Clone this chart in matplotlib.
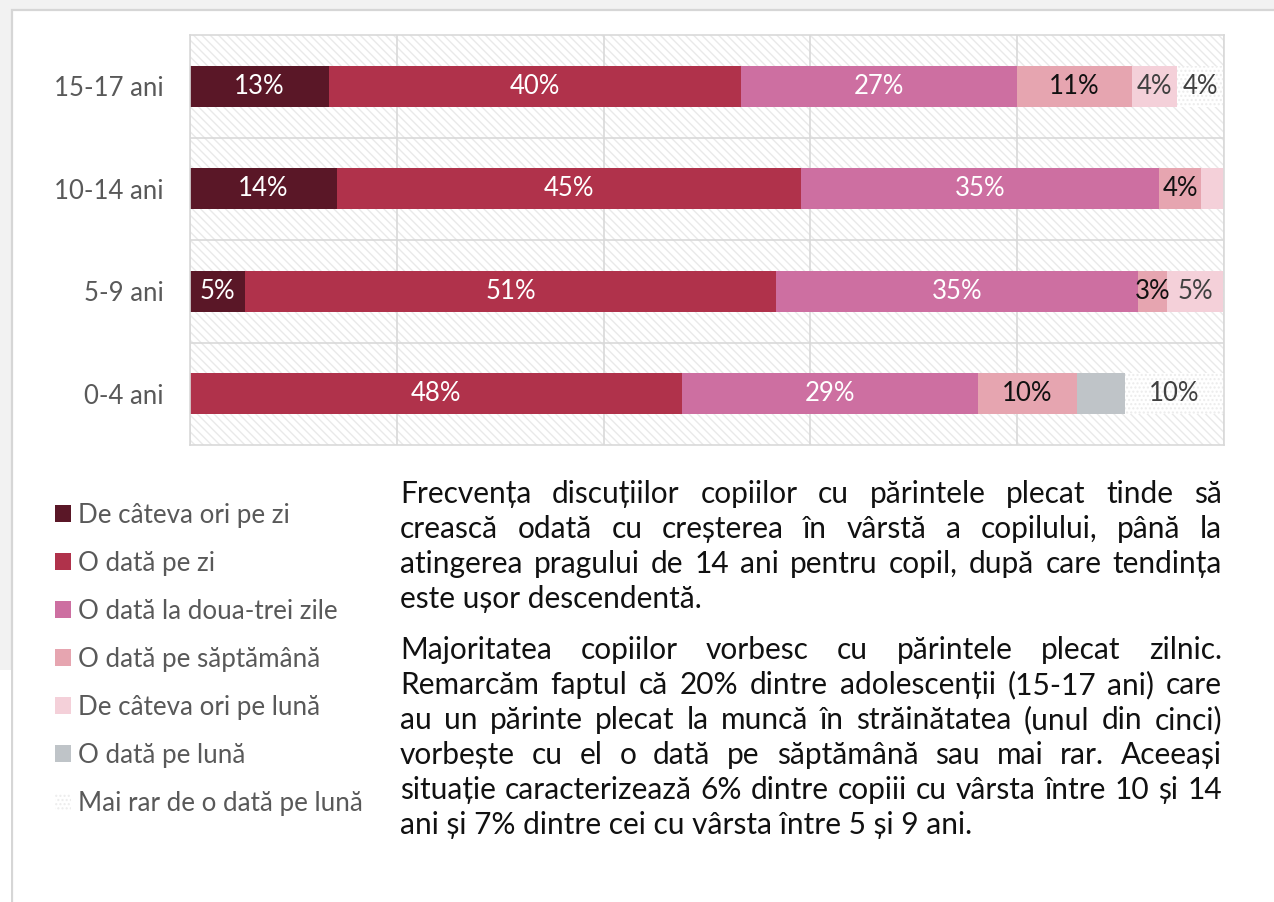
import matplotlib
matplotlib.use("Agg")
import matplotlib.pyplot as plt
from matplotlib.patches import Patch, Rectangle
import numpy as np

# ---- data -------------------------------------------------------------
age_groups = ["0-4 ani", "5-9 ani", "10-14 ani", "15-17 ani"]

series_names = [
    "De câteva ori pe zi",
    "O dată pe zi",
    "O dată la doua-trei zile",
    "O dată pe săptămână",
    "De câteva ori pe lună",
    "O dată pe lună",
    "Mai rar de o dată pe lună",
]

de_cateva_ori_pe_zi = [0.0, 5.3, 14.2, 13.4]
o_data_pe_zi = [47.6, 51.4, 44.9, 39.9]
o_data_la_doua_trei_zile = [28.6, 35.0, 34.6, 26.7]
o_data_pe_saptamana = [9.6, 2.8, 4.1, 11.1]
de_cateva_ori_pe_luna = [0.0, 5.4, 2.2, 4.4]
o_data_pe_luna = [4.6, 0.0, 0.0, 0.0]
mai_rar = [9.6, 0.0, 0.0, 4.4]

# segments whose value label is not printed
unlabeled = [("10-14 ani", "De câteva ori pe lună"), ("0-4 ani", "O dată pe lună")]

paragraphs = [
    [
        "Frecvența discuțiilor copiilor cu părintele plecat tinde să",
        "crească odată cu creșterea în vârstă a copilului, până la",
        "atingerea pragului de 14 ani pentru copil, după care tendința",
        "este ușor descendentă.",
    ],
    [
        "Majoritatea copiilor vorbesc cu părintele plecat zilnic.",
        "Remarcăm faptul că 20% dintre adolescenții (15-17 ani) care",
        "au un părinte plecat la muncă în străinătatea (unul din cinci)",
        "vorbește cu el o dată pe săptămână sau mai rar. Aceeași",
        "situație caracterizează 6% dintre copiii cu vârsta între 10 și 14",
        "ani și 7% dintre cei cu vârsta între 5 și 9 ani.",
    ],
]

# ---- style ------------------------------------------------------------
FAMILY = ["Lato", "DejaVu Sans"]
plt.rcParams["font.family"] = FAMILY
plt.rcParams["hatch.linewidth"] = 1.0

series_values = [
    de_cateva_ori_pe_zi,
    o_data_pe_zi,
    o_data_la_doua_trei_zile,
    o_data_pe_saptamana,
    de_cateva_ori_pe_luna,
    o_data_pe_luna,
    mai_rar,
]
colors = ["#5a1727", "#b0324b", "#cd6fa1", "#e6a5b0", "#f4d0d9", "#bfc4c8", "#ffffff"]
hatches = [None, None, None, None, None, None, "...."]
hatch_edge = "#ececec"
label_colors = ["white", "white", "white", "#111111", "#404040", "#404040", "#404040"]

W, H = 1274, 902
fig = plt.figure(figsize=(W / 100, H / 100), dpi=100, facecolor="#f2f2f2")

# white panel with thin grey border
fig.patches.append(Rectangle((12 / W, -0.01), 1.0, 1 - 10 / H + 0.01, transform=fig.transFigure,
                             facecolor="white", edgecolor="#d6d6d6", linewidth=1.6, zorder=-2))
fig.patches.append(Rectangle((0, 0), 11 / W, (H - 670) / H, transform=fig.transFigure,
                             facecolor="white", edgecolor="none", zorder=-2))

ax = fig.add_axes([190 / W, 1 - 445 / H, 1034 / W, 410 / H])
ax.set_facecolor("white")

# fine diagonal texture behind the plot area
ax.add_patch(Rectangle((0, 0), 1, 1, transform=ax.transAxes, facecolor="white",
                       edgecolor="#e9e9e9", hatch="\\\\\\\\", linewidth=0, zorder=0.1))

y = np.arange(len(age_groups))
left = np.zeros(len(age_groups))
for name, vals, col, hat, lcol in zip(series_names, series_values, colors, hatches, label_colors):
    vals = np.asarray(vals, dtype=float)
    bars = ax.barh(y, vals, left=left, height=0.4, color=col,
                   edgecolor=hatch_edge if hat else col, linewidth=0,
                   hatch=hat, zorder=2, label=name)
    for i, (b, v) in enumerate(zip(bars, vals)):
        if v <= 0 or (age_groups[i], name) in unlabeled:
            continue
        ax.text(b.get_x() + b.get_width() / 2, b.get_y() + b.get_height() / 2,
                f"{v:.0f}%", ha="center", va="center", fontsize=18.5,
                color=lcol, zorder=3)
    left += vals

ax.set_xlim(0, 100)
ax.set_ylim(-0.5, len(age_groups) - 0.5)
ax.set_xticks(np.arange(0, 101, 20))
ax.set_xticklabels([])
ax.set_yticks(y)
ax.set_yticklabels(age_groups, fontsize=18.5, color="#595959")
ax.set_yticks(np.arange(0.5, len(age_groups) - 0.5, 1), minor=True)
ax.tick_params(axis="both", which="both", length=0)
ax.tick_params(axis="y", pad=19)
ax.set_axisbelow(True)
ax.grid(axis="x", which="major", color="#d9d9d9", linewidth=1.2, zorder=0.5)
ax.grid(axis="y", which="minor", color="#d9d9d9", linewidth=1.2, zorder=0.5)
for s in ax.spines.values():
    s.set_color("#d9d9d9")
    s.set_linewidth(1.2)

# legend
handles = [Patch(facecolor=c, edgecolor=hatch_edge if h else c, hatch=h, linewidth=0)
           for c, h in zip(colors, hatches)]
leg = fig.legend(handles, series_names, loc="upper left",
                 bbox_to_anchor=(55 / W, 1 - 503 / H), frameon=False,
                 fontsize=18.7, handlelength=0.62, handleheight=0.62,
                 handletextpad=0.27, labelspacing=0.885, borderpad=0, borderaxespad=0)
for t in leg.get_texts():
    t.set_color("#595959")

# justified explanatory text
PARA_FS = 21.5
X0, X1 = 400, 1222
baselines = [[503, 538, 573, 608], [659, 694, 729, 764, 799, 834]]
renderer = fig.canvas.get_renderer()


def width_px(s):
    t = fig.text(0, 0, s, fontsize=PARA_FS, family=FAMILY)
    w = t.get_window_extent(renderer).width
    t.remove()
    return w


for lines, ys in zip(paragraphs, baselines):
    for k, (line, yb) in enumerate(zip(lines, ys)):
        yf = 1 - yb / H
        if k == len(lines) - 1:
            fig.text(X0 / W, yf, line, fontsize=PARA_FS, color="#111111",
                     ha="left", va="baseline", family=FAMILY)
            continue
        words = line.split(" ")
        widths = [width_px(w_) for w_ in words]
        gap = (X1 - X0 - sum(widths)) / (len(words) - 1)
        x = X0
        for w_, wd in zip(words, widths):
            fig.text(x / W, yf, w_, fontsize=PARA_FS, color="#111111",
                     ha="left", va="baseline", family=FAMILY)
            x += wd + gap

fig.savefig("out.png", dpi=100, facecolor=fig.get_facecolor())
